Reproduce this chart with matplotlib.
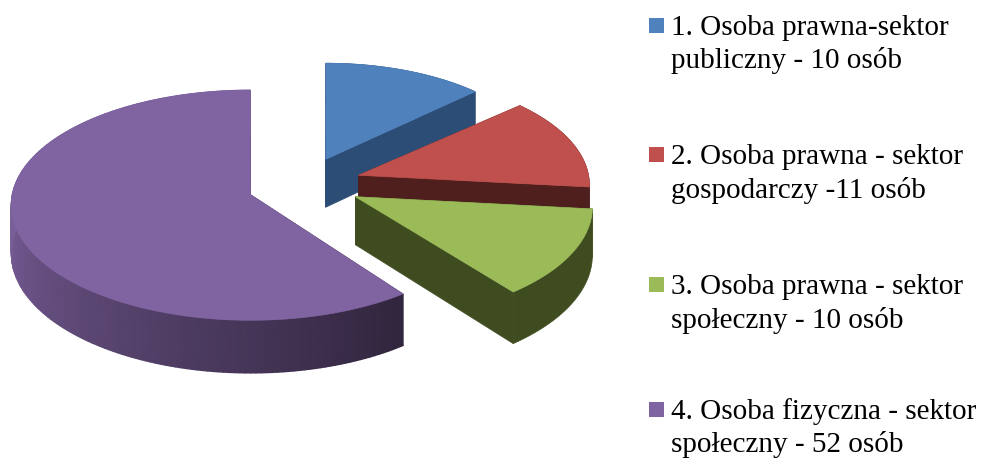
import matplotlib
matplotlib.use('Agg')
import matplotlib.pyplot as plt
from matplotlib.colors import LinearSegmentedColormap
from matplotlib.patches import Polygon, Rectangle
import numpy as np

plt.rcParams['font.family'] = ['Liberation Serif', 'DejaVu Serif']

# dane z legendy
values = [10, 11, 10, 52]
labels = [
    "1. Osoba prawna-sektor\npubliczny - 10 osób",
    "2. Osoba prawna - sektor\ngospodarczy -11 osób",
    "3. Osoba prawna - sektor\nspołeczny - 10 osób",
    "4. Osoba fizyczna - sektor\nspołeczny - 52 osób",
]

# kolory: wierzch, przekroj/bok
top_colors = ["#4F81BD", "#C0504D", "#9BBB59", "#8064A2"]
cut_colors = ["#2C4D75", "#4F1F1D", "#3F4C20", "#32263F"]
legend_base = [35, 164, 294, 419]

# geometria 3D (w pikselach obrazka)
center = (304, 186)
explode = 59
explode_k = 0.47
rx, ry = 236, 113
persp = 0.09
depth = 48
line_gap = 33.5
radius = [0.92, 0.975, 1.0, 1.01]
nudge = [(0, -1), (0, 0), (-3, 0), (1, -2)]

fig = plt.figure(figsize=(9.81, 4.59), dpi=100)
ax = fig.add_axes([0, 0, 1, 1])
ax.set_xlim(0, 981)
ax.set_ylim(459, 0)
ax.axis('off')


def project(theta, apex, r=1.0, drop=0.0):
    # theta w stopniach, zgodnie z zegarem od godziny 12
    # wykres z Excela ma lekko znieksztalcone katy, stad poprawka (skoki na granicach wycinkow)
    warp = np.interp(theta,
                     [0, 43.3, 43.5, 91, 134.4, 134.6, 225, 270, 360],
                     [0, 3, 5.5, 5, 7, 11, 6, 2, 0])
    t = np.radians(theta + warp)
    u = r * np.sin(t)
    v = -r * np.cos(t)
    w = 1 - persp * v
    return np.column_stack((apex[0] + rx * u / w,
                            apex[1] + (ry * v + drop) / w))


def draw_slice(start, end, top, cut, r, shift, gradient=False):
    mid = np.radians((start + end) / 2)
    apex = (center[0] + explode * np.sin(mid) + shift[0],
            center[1] - explode * explode_k * np.cos(mid) + shift[1])
    a0 = np.array([apex])
    a1 = a0 + [0, depth]
    # linspace omija dokladne granice, zeby poprawka brala strone wlasnego wycinka
    th = np.linspace(start + 0.05, end - 0.05, 180)
    p_top = project(th, apex, r)
    p_bot = project(th, apex, r, drop=depth)
    # przekroje
    for k in (0, -1):
        ax.add_patch(Polygon(np.vstack((a0, p_top[k], p_bot[k], a1)), fc=cut, ec=cut, lw=0.5))
    # bok
    if gradient:
        cmap = LinearSegmentedColormap.from_list('side', [cut, "#7A5F9A"])
        f = np.clip((th - start) / (270 - start), 0, 1)
        xx = np.vstack((p_top[:, 0], p_bot[:, 0]))
        yy = np.vstack((p_top[:, 1], p_bot[:, 1]))
        ax.pcolormesh(xx, yy, np.vstack((f, f)), cmap=cmap, vmin=0, vmax=1, shading='gouraud')
    else:
        ax.add_patch(Polygon(np.vstack((p_top, p_bot[::-1])), fc=cut, ec=cut, lw=0.5))
    # wierzch
    ax.add_patch(Polygon(np.vstack((a0, p_top)), fc=top, ec=top, lw=0.5, zorder=3))


angles = np.cumsum([0] + values) / sum(values) * 360
for i in range(len(values)):
    draw_slice(angles[i], angles[i + 1], top_colors[i], cut_colors[i],
               radius[i], nudge[i], gradient=(i == 3))

# legenda
for lab, col, y in zip(labels, top_colors, legend_base):
    ax.add_patch(Rectangle((649, y - 17), 15, 15, fc=col, ec='none'))
    first, second = lab.split("\n")
    ax.text(671, y, first, fontsize=21, va='baseline', ha='left', color='black')
    ax.text(671, y + line_gap, second, fontsize=21, va='baseline', ha='left', color='black')

ax.set_xlim(0, 981)
ax.set_ylim(459, 0)
fig.savefig('out.png', dpi=100)
